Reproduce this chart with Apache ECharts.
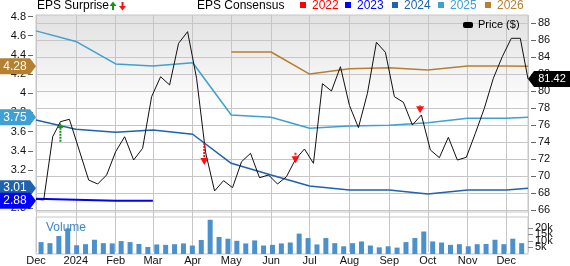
<!DOCTYPE html>
<html><head><meta charset="utf-8">
<script src="https://cdn.jsdelivr.net/npm/echarts@6/dist/echarts.min.js"></script>
<style>html,body{margin:0;padding:0;background:#fff}#c{width:570px;height:266px}</style>
</head><body><div id="c"></div>
<script>
const xMinDate = '2023-12-01';
const xMaxDate = '2024-12-18';

const priceDates = ['2023-12-01','2023-12-07','2023-12-14','2023-12-20','2023-12-27','2024-01-11','2024-01-18','2024-01-25','2024-02-01','2024-02-08','2024-02-15','2024-02-22','2024-02-29','2024-03-07','2024-03-14','2024-03-21','2024-03-28','2024-04-04','2024-04-11','2024-04-18','2024-04-25','2024-05-02','2024-05-09','2024-05-16','2024-05-23','2024-05-30','2024-06-06','2024-06-13','2024-06-20','2024-06-27','2024-07-04','2024-07-11','2024-07-18','2024-07-25','2024-08-01','2024-08-08','2024-08-15','2024-08-22','2024-08-29','2024-09-05','2024-09-12','2024-09-19','2024-09-26','2024-10-03','2024-10-10','2024-10-17','2024-10-24','2024-10-31','2024-11-07','2024-11-14','2024-11-21','2024-11-28','2024-12-05','2024-12-12','2024-12-18'];
const priceValues = [67.26,67.18,74.62,76.39,76.67,69.53,69.06,70.12,72.86,74.62,71.88,73.26,79.33,81.68,80.71,85.61,86.98,81.5,72.8,68.24,69.45,68.63,71.68,72.67,69.8,70.12,69.06,69.92,71.96,73.18,71.49,80.86,80.0,82.86,78.3,75.69,79.73,85.73,84.55,79.33,78.67,76.0,77.18,73.06,72.16,74.55,71.88,72.2,75.02,77.96,81.49,84.04,86.2,86.2,81.42];

const epsDates = ['2023-12-01','2024-01-01','2024-02-01','2024-03-01','2024-04-01','2024-05-01','2024-06-01','2024-07-01','2024-08-01','2024-09-01','2024-10-01','2024-11-01','2024-12-01','2024-12-18'];
const eps2023 = [2.90,2.89,2.88,2.88,null,null,null,null,null,null,null,null,null,null];
const eps2024 = [3.72,3.625,3.593,3.617,3.572,3.269,3.147,3.033,2.991,2.991,2.95,2.99,2.99,3.01];
const eps2025 = [4.65,4.54,4.305,4.284,4.318,3.773,3.749,3.634,3.658,3.666,3.693,3.738,3.738,3.75];
const eps2026 = [null,null,null,null,null,4.43,4.43,4.20,4.255,4.266,4.242,4.284,4.284,4.28];

const volumeDates = ['2023-12-03','2023-12-10','2023-12-17','2023-12-24','2023-12-31','2024-01-07','2024-01-14','2024-01-21','2024-01-28','2024-02-04','2024-02-11','2024-02-18','2024-02-25','2024-03-03','2024-03-10','2024-03-17','2024-03-24','2024-03-31','2024-04-07','2024-04-14','2024-04-21','2024-04-28','2024-05-05','2024-05-12','2024-05-19','2024-05-26','2024-06-02','2024-06-09','2024-06-16','2024-06-23','2024-06-30','2024-07-07','2024-07-14','2024-07-21','2024-07-28','2024-08-04','2024-08-11','2024-08-18','2024-08-25','2024-09-01','2024-09-08','2024-09-15','2024-09-22','2024-09-29','2024-10-06','2024-10-13','2024-10-20','2024-10-27','2024-11-03','2024-11-10','2024-11-17','2024-11-24','2024-12-01','2024-12-08','2024-12-15'];
const volumeK = [9.1,8.3,13.8,19.6,6.7,7.5,10.9,8.3,8.1,9.9,9.1,7.7,5.4,7.3,7.0,7.5,8.1,6.5,10.7,26.2,13.0,11.7,10.1,8.1,10.4,6.5,7.0,8.1,8.8,15.6,12.2,7.3,12.2,8.3,5.9,8.3,9.6,6.5,5.1,5.9,4.9,9.1,12.2,17.2,9.6,8.8,7.0,7.5,5.9,7.5,7.7,10.9,7.5,11.7,8.3];

const arrowDates = ['2023-12-20','2024-04-10','2024-06-20','2024-09-25'];
const arrowFrom = [74.04,73.88,72.75,78.3];
const arrowTo = [76.24,71.29,71.5,77.37];
const arrowBeat = [1,0,0,0];

const priceTicks = [66,68,70,72,74,76,78,80,82,84,86,88];
const epsTicks = [2.8,3.0,3.2,3.4,3.6,3.8,4.0,4.2,4.4,4.6,4.8];
const volumeTicks = [0,5000,10000,15000,20000,25000];
const monthNames = ['Jan','Feb','Mar','Apr','May','Jun','Jul','Aug','Sep','Oct','Nov','Dec'];

const legendYears = ['2022','2023','2024','2025','2026'];
const yearColors = ['#ff0000','#0000ff','#1f62ad','#3ea0d3','#b5802f'];

function ts(s){const p=s.split('-');return new Date(+p[0],+p[1]-1,+p[2]).getTime();}
const xMin = ts(xMinDate), xMax = ts(xMaxDate);
const FONT = "'Liberation Sans', Arial, sans-serif";
const GRID_C = '#c6c6c6';

function lastVal(arr){for(let i=arr.length-1;i>=0;i--) if(arr[i]!=null) return arr[i]; return null;}

function epsSeries(name, arr, color, width){
  const v = lastVal(arr);
  return {
    type:'line', name, xAxisIndex:4, yAxisIndex:4, symbol:'none', silent:true, z:3,
    data: epsDates.map((d,i)=>[ts(d), arr[i]]),
    lineStyle:{color, width},
    markPoint:{
      symbol:'path://M0,0L30,0L36,8L30,16L0,16Z', symbolSize:[36,16], symbolOffset:[-18,0], silent:true,
      itemStyle:{color},
      label:{show:true, formatter: v.toFixed(2), color:'#fff', fontSize:12, fontFamily:FONT, offset:[-3,0]},
      data:[{coord:[xMin, v], value:v}]
    }
  };
}

const hiddenX = g => ({type:'time', gridIndex:g, min:xMin, max:xMax, show:false});
const hiddenY = g => ({type:'value', gridIndex:g, min:0, max:1, show:false});

const chart = echarts.init(document.getElementById('c'), null, {renderer:'canvas'});
const lastPrice = priceValues[priceValues.length-1];

const option = {
  animation:false,
  grid:[
    {left:36, right:42, top:15, height:197, show:true, z:-1, borderColor:GRID_C, borderWidth:1,
      backgroundColor:new echarts.graphic.LinearGradient(0,0,0,1,[{offset:0,color:'#e1e1e1'},{offset:0.48,color:'#ffffff'},{offset:1,color:'#ffffff'}])},
    {left:36, right:42, top:217, height:37, show:true, z:-1, borderColor:GRID_C, borderWidth:1, backgroundColor:'#ffffff'},
    {left:36, right:42, top:15, height:239},
    {left:36, right:42, top:23, height:187},
    {left:36, right:42, top:16.5, height:191.8}
  ],
  xAxis:[
    hiddenX(0), hiddenX(1),
    {type:'time', gridIndex:2, min:xMin, max:xMax, splitNumber:14,
      axisLine:{show:false}, axisTick:{show:false},
      splitLine:{show:true, lineStyle:{color:GRID_C, width:1}},
      axisLabel:{fontSize:11, color:'#111', fontFamily:FONT, margin:3,
        formatter:function(val){const d=new Date(val); return d.getMonth()===0 ? String(d.getFullYear()) : monthNames[d.getMonth()];}}},
    hiddenX(3), hiddenX(4)
  ],
  yAxis:[
    hiddenY(0),
    {type:'value', gridIndex:1, position:'right', min:0, max:28300, interval:5000,
      axisLine:{show:false}, splitLine:{show:false},
      axisTick:{show:true, length:5, lineStyle:{color:'#888'}, customValues:volumeTicks},
      axisLabel:{fontSize:11, color:'#111', fontFamily:FONT, margin:7, hideOverlap:false, customValues:volumeTicks,
        formatter:function(v){ if(v===0) return '0'; return (v%5000===0 && v<=25000) ? (v/1000)+'k' : ''; }}},
    hiddenY(2),
    {type:'value', gridIndex:3, position:'right', offset:3, min:66, max:88, interval:2,
      axisLine:{show:false},
      axisTick:{show:true, length:5, lineStyle:{color:'#666'}},
      axisLabel:{fontSize:11, color:'#111', fontFamily:FONT, margin:7},
      splitLine:{show:true, lineStyle:{color:GRID_C, width:1}}},
    {type:'value', gridIndex:4, position:'left', offset:3, min:2.8, max:4.8, interval:0.2,
      axisLine:{show:false}, splitLine:{show:false},
      axisTick:{show:true, length:5, lineStyle:{color:'#666'}},
      axisLabel:{fontSize:11, color:'#111', fontFamily:FONT, margin:7}}
  ],
  series:[
    {type:'bar', name:'Volume', xAxisIndex:1, yAxisIndex:1, barWidth:5, silent:true,
      itemStyle:{color:'#4b91cd'},
      data: volumeDates.map((d,i)=>[ts(d), volumeK[i]*1000])},
    epsSeries('2024', eps2024, yearColors[2], 1.5),
    epsSeries('2025', eps2025, yearColors[3], 1.5),
    epsSeries('2026', eps2026, yearColors[4], 1.5),
    epsSeries('2023', eps2023, yearColors[1], 2),
    {type:'line', name:'Price ($)', xAxisIndex:3, yAxisIndex:3, symbol:'none', silent:true, z:5,
      data: priceDates.map((d,i)=>[ts(d), priceValues[i]]),
      lineStyle:{color:'#111', width:1},
      markPoint:{
        symbol:'path://M0,8L6,0L42,0L42,16L6,16Z', symbolSize:[42,16], symbolOffset:[21,0], silent:true,
        itemStyle:{color:'#000'},
        label:{show:true, formatter:lastPrice.toFixed(2), color:'#fff', fontSize:11, fontFamily:FONT, offset:[3,0]},
        data:[{coord:[xMax, lastPrice], value:lastPrice}]
      }},
    {type:'custom', name:'EPS Surprise', xAxisIndex:3, yAxisIndex:3, silent:true, z:6,
      dimensions:['x','from','to','beat'], encode:{x:0, y:[1,2]},
      data: arrowDates.map((d,i)=>[ts(d), arrowFrom[i], arrowTo[i], arrowBeat[i]]),
      renderItem:function(params, api){
        const x = api.value(0), a = api.value(1), b = api.value(2), beat = api.value(3);
        const p1 = api.coord([x,a]), p2 = api.coord([x,b]);
        const col = beat ? '#129a12' : '#ff1010';
        const dir = p2[1] < p1[1] ? -1 : 1;
        const head = beat ? 5 : 7, hw = beat ? 3 : 4;
        const baseY = p2[1] - dir*head;
        return {type:'group', children:[
          {type:'line', shape:{x1:p1[0], y1:p1[1], x2:p1[0], y2:baseY},
            style:{stroke: beat ? '#1f8a1f' : '#ff1010', lineWidth:2, lineDash:[2,1]}},
          {type:'polygon', shape:{points:[[p2[0],p2[1]],[p2[0]-hw,baseY],[p2[0]+hw,baseY]]}, style:{fill:col}}
        ]};
      }}
  ],
  graphic:[
    {type:'text', left:37, top:0, z:10, style:{text:'EPS Surprise', font:'12px '+FONT, fill:'#000'}},
    {type:'polygon', z:10, shape:{points:[[113,1.5],[109.5,6],[116.5,6]]}, style:{fill:'#129a12'}},
    {type:'rect', z:10, shape:{x:112,y:6,width:2,height:4}, style:{fill:'#129a12'}},
    {type:'polygon', z:10, shape:{points:[[122.5,10.5],[119,6],[126,6]]}, style:{fill:'#ff1010'}},
    {type:'rect', z:10, shape:{x:121.5,y:2,width:2,height:4}, style:{fill:'#ff1010'}},
    {type:'text', left:197, top:0, z:10, style:{text:'EPS Consensus', font:'12px '+FONT, fill:'#000'}}
  ].concat(
    legendYears.flatMap((y,i)=>{
      const sx = [300,345,392,438,485][i];
      return [
        {type:'rect', z:10, shape:{x:sx, y:2, width:6, height:6}, style:{fill:yearColors[i]}},
        {type:'text', left:sx+12, top:0, z:10, style:{text:y, font:'12px '+FONT, fill:yearColors[i]}}
      ];
    })
  ).concat([
    {type:'rect', z:10, shape:{x:463, y:22, width:10, height:6, r:2}, style:{fill:'#000'}},
    {type:'text', left:478, top:19, z:10, style:{text:'Price ($)', font:'11px '+FONT, fill:'#000'}},
    {type:'text', left:46, top:222, z:10, style:{text:'Volume', font:'12px '+FONT, fill:'#3d87c8'}}
  ])
};
chart.setOption(option);
</script>
</body></html>
